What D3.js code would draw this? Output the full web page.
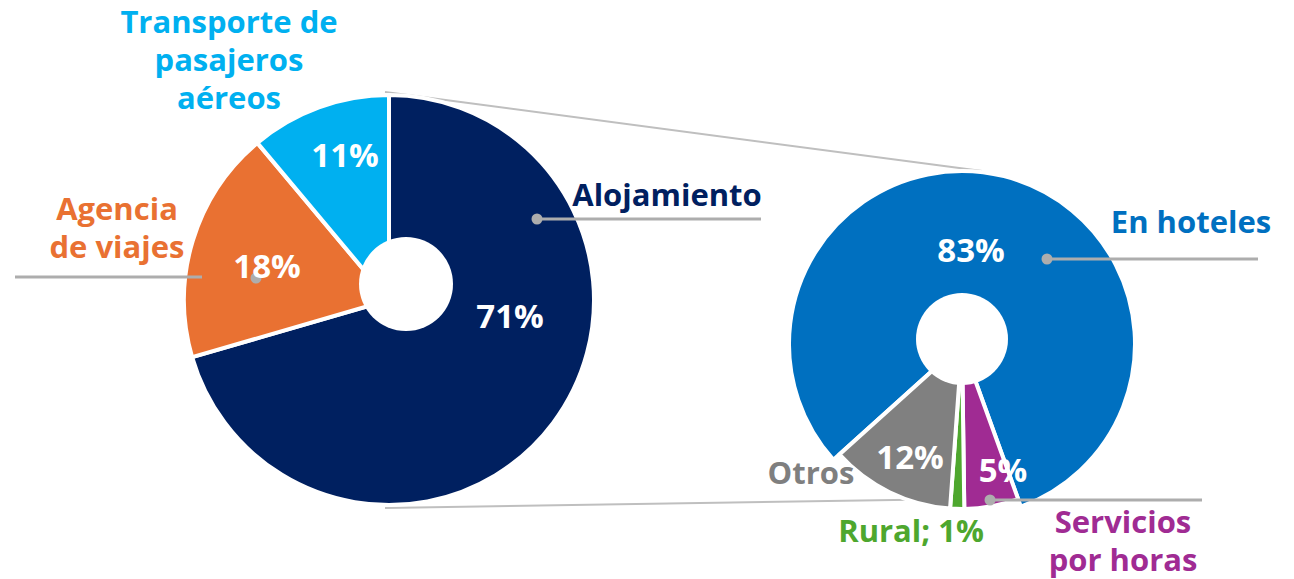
<!DOCTYPE html>
<html>
<head>
<meta charset="utf-8">
<script src="https://cdn.jsdelivr.net/npm/d3@7"></script>
<style>
  html, body { margin: 0; padding: 0; background: #ffffff; }
  svg { display: block; }
  text { font-family: "Open Sans", "DejaVu Sans", sans-serif; font-weight: 700; }
</style>
</head>
<body>
<svg id="chart" width="1294" height="579"></svg>
<script>
// ---------------- data ----------------
const mainCategories = ["Alojamiento", "Agencia de viajes", "Transporte de pasajeros aéreos"];
const mainValues = [70.5, 18.4, 11.1];
const mainColors = ["#002060", "#E97132", "#00B0F0"];

const subCategories = ["En hoteles", "Servicios por horas", "Rural", "Otros"];
const subValues = [82.6, 5.4, 1.4, 12.4];
const subColors = ["#0070C0", "#A02B93", "#4EA72E", "#808080"];

// ---------------- layout (styles / positions only) ----------------
const svg = d3.select("#chart");

const main = { cx: 389, cy: 300, r: 205, hole: { dx: 17, dy: -16, r: 47 }, start: 0 };
const sub  = { cx: 962, cy: 344, r: [173, 165, 165, 165], hole: { dx: 0, dy: -5, r: 46 }, start: -132 };

const pct = v => Math.round(v) + "%";
const rad = d => d * Math.PI / 180;

// connector lines between the pies (drawn underneath)
const conn = svg.append("g").attr("stroke", "#BFBFBF").attr("stroke-width", 2).attr("fill", "none");
conn.append("line").attr("x1", 385).attr("y1", 92).attr("x2", 982).attr("y2", 171);
conn.append("line").attr("x1", 385).attr("y1", 508).attr("x2", 960).attr("y2", 499);

// ---------------- main pie ----------------
const mainPie = d3.pie().sort(null).startAngle(rad(main.start)).endAngle(rad(main.start + 360))(mainValues);
const mainArc = d3.arc().innerRadius(0).outerRadius(main.r);
const gMain = svg.append("g").attr("transform", `translate(${main.cx},${main.cy})`);
gMain.selectAll("path").data(mainPie).join("path")
  .attr("d", mainArc)
  .attr("fill", (d, i) => mainColors[i])
  .attr("stroke", "#ffffff").attr("stroke-width", 4).attr("stroke-linejoin", "round");
gMain.append("circle").attr("cx", main.hole.dx).attr("cy", main.hole.dy).attr("r", main.hole.r).attr("fill", "#ffffff");

// ---------------- sub pie ----------------
const subPie = d3.pie().sort(null).startAngle(rad(sub.start)).endAngle(rad(sub.start + 360))(subValues);
const gSub = svg.append("g").attr("transform", `translate(${sub.cx},${sub.cy})`);
gSub.selectAll("path").data(subPie).join("path")
  .attr("d", (d, i) => d3.arc().innerRadius(0).outerRadius(sub.r[i])(d))
  .attr("fill", (d, i) => subColors[i])
  .attr("stroke", "#ffffff").attr("stroke-width", 4).attr("stroke-linejoin", "round");
gSub.append("circle").attr("cx", sub.hole.dx).attr("cy", sub.hole.dy).attr("r", sub.hole.r).attr("fill", "#ffffff");

// ---------------- leader lines ----------------
const leaderColor = "#ADADAD";
const leaders = [
  { x1: 537, y1: 219, x2: 761, y2: 219, dot: true },   // Alojamiento
  { x1: 15,  y1: 277, x2: 202, y2: 277, dot: false },  // Agencia line
  { x1: 1047, y1: 259, x2: 1258, y2: 259, dot: true }, // En hoteles
  { x1: 990, y1: 500, x2: 1202, y2: 500, dot: true }   // Servicios
];
const gL = svg.append("g");
leaders.forEach(l => {
  gL.append("line").attr("x1", l.x1).attr("y1", l.y1).attr("x2", l.x2).attr("y2", l.y2)
    .attr("stroke", leaderColor).attr("stroke-width", 3);
  if (l.dot) gL.append("circle").attr("cx", l.x1).attr("cy", l.y1).attr("r", 5.5).attr("fill", leaderColor);
});
gL.append("circle").attr("cx", 256).attr("cy", 278).attr("r", 5.5).attr("fill", leaderColor); // Agencia dot

// ---------------- category labels ----------------
const nameFont = 31, lineH = 38;
const mainNameLayout = [
  { lines: ["Alojamiento"], x: 667, y: 206 },
  { lines: ["Agencia", "de viajes"], x: 117, y: 220 },
  { lines: ["Transporte de", "pasajeros", "aéreos"], x: 229, y: 33 }
];
const subNameLayout = [
  { lines: ["En hoteles"], x: 1191, y: 233 },
  { lines: ["Servicios", "por horas"], x: 1123, y: 533 },
  { lines: null, x: 911, y: 542 },            // Rural; value in label
  { lines: ["Otros"], x: 811, y: 484 }
];

function nameText(layout, color) {
  layout.lines.forEach((ln, k) => {
    svg.append("text").attr("text-anchor", "middle").attr("font-size", nameFont).attr("fill", color)
      .attr("x", layout.x).attr("y", layout.y + k * lineH).text(ln);
  });
}
mainNameLayout.forEach((L, i) => nameText(L, mainColors[i]));
subNameLayout.forEach((L, i) => {
  if (!L.lines) L.lines = [subCategories[i] + "; " + pct(subValues[i])];
  nameText(L, subColors[i] === "#808080" ? "#7F7F7F" : subColors[i]);
});

// ---------------- percentage labels ----------------
const pctFont = 33;
const mainPctPos = [[510, 328], [267, 278], [345, 167]];
const subPctPos = [[971, 262], [1003, 482], null, [910, 469]];
mainValues.forEach((v, i) => {
  svg.append("text").attr("x", mainPctPos[i][0]).attr("y", mainPctPos[i][1])
    .attr("text-anchor", "middle").attr("font-size", pctFont).attr("fill", "#ffffff").text(pct(v));
});
subValues.forEach((v, i) => {
  if (!subPctPos[i]) return;
  svg.append("text").attr("x", subPctPos[i][0]).attr("y", subPctPos[i][1])
    .attr("text-anchor", "middle").attr("font-size", pctFont).attr("fill", "#ffffff").text(pct(v));
});
</script>
</body>
</html>
